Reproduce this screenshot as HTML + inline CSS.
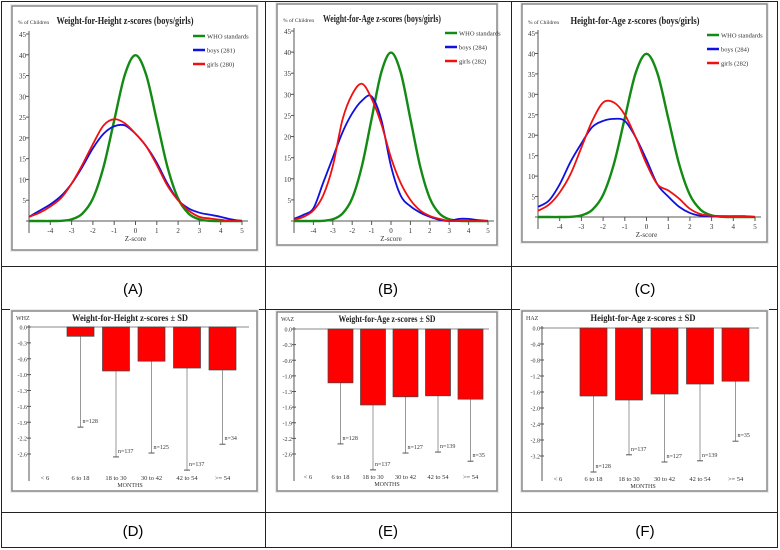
<!DOCTYPE html>
<html><head><meta charset="utf-8"><style>
body{margin:0;background:#fff;}
svg{display:block;font-family:"Liberation Serif",serif;}
.lab{font-family:"Liberation Sans",sans-serif;font-size:15px;}
</style></head><body>
<svg id="fig" width="780" height="550" viewBox="0 0 780 550" xmlns="http://www.w3.org/2000/svg">
<g stroke="#222" stroke-width="1" fill="none">
<rect x="1.5" y="1.5" width="776" height="546"/>
<line x1="265.5" y1="1" x2="265.5" y2="548"/>
<line x1="511.5" y1="1" x2="511.5" y2="548"/>
<line x1="1" y1="266.5" x2="778" y2="266.5"/>
<line x1="1" y1="309.5" x2="778" y2="309.5"/>
<line x1="1" y1="512.5" x2="778" y2="512.5"/>
</g>
<text class="lab" x="133" y="294" text-anchor="middle">(A)</text>
<text class="lab" x="388" y="294" text-anchor="middle">(B)</text>
<text class="lab" x="645" y="294" text-anchor="middle">(C)</text>
<text class="lab" x="133" y="536" text-anchor="middle">(D)</text>
<text class="lab" x="388" y="536" text-anchor="middle">(E)</text>
<text class="lab" x="645" y="536" text-anchor="middle">(F)</text>
</svg>
<script>
// ---- curve data (z from -5 to 5 step 0.5) ----
const zScores = [-5,-4.5,-4,-3.5,-3,-2.5,-2,-1.5,-1,-0.5,0,0.5,1,1.5,2,2.5,3,3.5,4,4.5,5];
const whoStd = [0,0,0,0.05,0.4,1.75,5.4,13,24.2,35.2,39.9,35.2,24.2,13,5.4,1.75,0.4,0.05,0,0,0];
const boysA = [1,2.5,4,6,9,13,17.5,21,22.8,23,21,18,14,9,5,3,2,1.5,1,0.4,0];
const girlsA = [1,2,3.5,5.5,9,13.5,18.5,23,24.5,23.5,21,18,13.5,8.5,5,2.5,1,0.6,0.3,0,0];
const boysB = [0.5,1.5,3,9,15,21,25.5,28.5,29.5,24,13,6,3.5,2,1,0.3,0,0.5,0.5,0.2,0];
const girlsB = [0.3,1,2.5,6,13,24,30,32.5,29,23,15,9,5,2.5,1.2,0.5,0,0,0,0,0];
const boysC = [2.5,4,8,13.5,18,22,23.5,24,23.5,19.5,14,8,5,2.5,1,0.3,0.2,0.2,0.2,0.2,0];
const girlsC = [1.5,3,6,10.5,17,23.5,28,28,25,19.5,13,8,6.5,4.5,2,0.7,0.3,0.2,0.1,0.1,0];
const xTicks = [-4,-3,-2,-1,0,1,2,3,4,5];
const yTicks = [5,10,15,20,25,30,35,40,45];
// ---- bar data ----
const ageGroups = ["< 6","6 to 18","18 to 30","30 to 42","42 to 54",">= 54"];
const whzMean = [null,-0.19,-0.9,-0.7,-0.84,-0.88];
const whzLow = [null,-2.05,-2.66,-2.58,-2.93,-2.4];
const whzN = [null,128,137,125,137,34];
const wazMean = [null,-1.12,-1.58,-1.41,-1.39,-1.46];
const wazLow = [null,-2.39,-2.93,-2.58,-2.56,-2.75];
const wazN = [null,128,137,127,139,35];
const hazMean = [null,-1.7,-1.8,-1.65,-1.4,-1.33];
const hazLow = [null,-3.6,-3.17,-3.35,-3.32,-2.83];
const hazN = [null,128,137,127,139,35];
const whzTicks = ["0.0","-0.3","-0.6","-1.0","-1.3","-1.6","-1.9","-2.2","-2.6"];
const wazTicks = ["0.0","-0.3","-0.6","-1.0","-1.3","-1.6","-1.9","-2.2","-2.6"];
const hazTicks = ["0.0","-0.4","-0.8","-1.2","-1.6","-2.0","-2.4","-2.8","-3.2"];

const NS="http://www.w3.org/2000/svg";
const svg=document.getElementById('fig');
function mk(tag,attrs,parent){const e=document.createElementNS(NS,tag);for(const k in attrs)e.setAttribute(k,attrs[k]);(parent||svg).appendChild(e);return e;}
function txt(s,attrs,parent){const t=mk('text',attrs,parent);t.textContent=s;return t;}
function smooth(pts){let d='M'+pts[0][0]+','+pts[0][1];for(let i=0;i<pts.length-1;i++){const p0=pts[i-1]||pts[i],p1=pts[i],p2=pts[i+1],p3=pts[i+2]||p2;const c1=[p1[0]+(p2[0]-p0[0])/6,p1[1]+(p2[1]-p0[1])/6],c2=[p2[0]-(p3[0]-p1[0])/6,p2[1]-(p3[1]-p1[1])/6];d+=' C'+c1.join(',')+' '+c2.join(',')+' '+p2.join(',');}return d;}

function curvePanel(o){
  const g=mk('g',{});
  
  
  mk('rect',{x:o.fx-2,y:o.fy-2,width:o.fw+4,height:o.fh+4,fill:'#ececec'},g);
  mk('rect',{x:o.fx,y:o.fy,width:o.fw,height:o.fh,fill:'#fff',stroke:'#888','stroke-width':1.5},g);
  const X=z=>o.x0+(z+5)/10*(o.x1-o.x0), Y=v=>o.y0-v/45*(o.y0-o.y45);
  mk('line',{x1:X(-5),y1:o.y45-3,x2:X(-5),y2:o.y0+12,stroke:'#555'},g);
  mk('line',{x1:X(-5)-3,y1:Y(0),x2:X(5)+6,y2:Y(0),stroke:'#555'},g);
  yTicks.forEach(v=>{mk('line',{x1:X(-5)-3,y1:Y(v),x2:X(-5),y2:Y(v),stroke:'#555'},g);
    const t=txt(String(v),{x:X(-5)-3,y:Y(v)+3,'font-size':7,'text-anchor':'end',fill:'#333'},g);
    });
  xTicks.forEach(v=>{mk('line',{x1:X(v),y1:Y(0),x2:X(v),y2:Y(0)+4,stroke:'#555'},g);
    const t=txt(String(v),{x:X(v),y:Y(0)+12,'font-size':7,'text-anchor':'middle',fill:'#333'},g);
    });
  const xt=txt('Z-score',{x:X(0),y:Y(0)+20,'font-size':7,'text-anchor':'middle',fill:'#333'},g);
  
  const yt=txt('% of Children',{x:o.fx+6,y:o.ty,'font-size':5.5,fill:'#333'},g);
  
  const tt=txt(o.title,{x:o.tx,y:o.ty,'font-size':11,'font-weight':'bold','text-anchor':'middle',fill:'#222',textLength:o.tw,lengthAdjust:'spacingAndGlyphs'},g);
  
  const series=[[whoStd,'#138a13','WHO standards','who-curve'],[o.boys,'#1010e0',o.boysLab,'boys-curve'],[o.girls,'#f01010',o.girlsLab,'girls-curve']];
  series.forEach((s,i)=>{
    const p=mk('path',{d:smooth(zScores.map((z,j)=>[X(z),Y(s[0][j])])),fill:'none',stroke:s[1],'stroke-width':s[3]==='who-curve'?2.4:1.8},g);
    
    const ly=o.ly+i*14;
    const le=mk('g',{},g);
    mk('line',{x1:o.lx,y1:ly,x2:o.lx+12,y2:ly,stroke:s[1],'stroke-width':2.5},le);
    txt(s[2],{x:o.lx+14,y:ly+2.5,'font-size':6.5,fill:'#333'},le);
  });
}
curvePanel({name:'chart-a-weight-for-height',fx:12,fy:6,fw:245,fh:244,x0:29,x1:242,y0:221,y45:34,tx:125,ty:24,tw:137,lx:193,ly:36,title:'Weight-for-Height z-scores (boys/girls)',boys:boysA,girls:girlsA,boysLab:'boys (281)',girlsLab:'girls (280)'});
curvePanel({name:'chart-b-weight-for-age',fx:277,fy:4,fw:220,fh:241,x0:294,x1:488,y0:221,y45:31,tx:382,ty:22,tw:118,lx:445,ly:33,title:'Weight-for-Age z-scores (boys/girls)',boys:boysB,girls:girlsB,boysLab:'boys (284)',girlsLab:'girls (282)'});
curvePanel({name:'chart-c-height-for-age',fx:522,fy:4,fw:245,fh:238,x0:538,x1:755,y0:217,y45:33,tx:635,ty:24,tw:129,lx:707,ly:35,title:'Height-for-Age z-scores (boys/girls)',boys:boysC,girls:girlsC,boysLab:'boys (284)',girlsLab:'girls (282)'});

function barPanel(o){
  const g=mk('g',{});
  
  
  mk('rect',{x:o.fx-2,y:o.fy-2,width:o.fw+4,height:o.fh+4,fill:'#ececec'},g);
  mk('rect',{x:o.fx,y:o.fy,width:o.fw,height:o.fh,fill:'#fff',stroke:'#888','stroke-width':1.5},g);
  const Y=v=>o.y0+(-v)/o.ymax*(o.ybot-o.y0);
  const X=i=>o.c0+i*o.step;
  mk('line',{x1:o.ax,y1:o.y0-2,x2:o.ax,y2:o.fy+o.fh-10,stroke:'#555'},g);
  mk('line',{x1:o.ax,y1:o.y0,x2:o.fx+o.fw-8,y2:o.y0,stroke:'#888'},g);
  o.ticks.forEach((s,i)=>{const y=o.y0+i*(o.ybot-o.y0)/(o.ticks.length-1);
    mk('line',{x1:o.ax-2,y1:y,x2:o.ax+2,y2:y,stroke:'#555'},g);
    const t=txt(s,{x:o.ax-2,y:y+2.5,'font-size':6,'text-anchor':'end',fill:'#333'},g);
    });
  const yt=txt(o.ylab,{x:o.fx+4,y:o.fy+9,'font-size':6,fill:'#333'},g);
  
  const tt=txt(o.title,{x:o.tx,y:o.fy+10,'font-size':9.5,'font-weight':'bold','text-anchor':'middle',fill:'#222',textLength:o.tw,lengthAdjust:'spacingAndGlyphs'},g);
  
  ageGroups.forEach((c,i)=>{
    const t=txt(c,{x:X(i),y:o.cy,'font-size':6.5,'text-anchor':'middle',fill:'#333'},g);
    
    if(o.mean[i]==null)return;
    const el=mk('line',{x1:X(i),y1:Y(o.mean[i]),x2:X(i),y2:Y(o.low[i]),stroke:'#999','stroke-width':1},g);
    
    mk('line',{x1:X(i)-3,y1:Y(o.low[i]),x2:X(i)+3,y2:Y(o.low[i]),stroke:'#555'},g);
    const b=mk('rect',{x:X(i)-o.bw/2,y:Y(0),width:o.bw,height:Y(o.mean[i])-Y(0),fill:'#ff0000',stroke:'#444','stroke-width':0.7},g);
    
    const n=txt('n='+o.n[i],{x:X(i)+2,y:Y(o.low[i])-4,'font-size':6,fill:'#333'},g);
    
  });
  const xt=txt('MONTHS',{x:o.tx,y:o.cy+7,'font-size':6,'text-anchor':'middle',fill:'#333'},g);
  
}
barPanel({name:'chart-d-whz-bars',fx:12,fy:311,fw:245,fh:180,ax:29,y0:327,ybot:454,ymax:2.6,c0:45,step:35.5,bw:27,cy:480,tx:130,tw:116,title:'Weight-for-Height z-scores ± SD',ylab:'WHZ',ticks:whzTicks,mean:whzMean,low:whzLow,n:whzN});
barPanel({name:'chart-e-waz-bars',fx:277,fy:312,fw:220,fh:179,ax:294,y0:329,ybot:454,ymax:2.6,c0:308,step:32.5,bw:25,cy:479,tx:387,tw:97,title:'Weight-for-Age z-scores ± SD',ylab:'WAZ',ticks:wazTicks,mean:wazMean,low:wazLow,n:wazN});
barPanel({name:'chart-f-haz-bars',fx:522,fy:311,fw:245,fh:180,ax:542,y0:328,ybot:456,ymax:3.2,c0:558,step:35.5,bw:27,cy:481,tx:643,tw:105,title:'Height-for-Age z-scores ± SD',ylab:'HAZ',ticks:hazTicks,mean:hazMean,low:hazLow,n:hazN});
</script>
</body></html>
